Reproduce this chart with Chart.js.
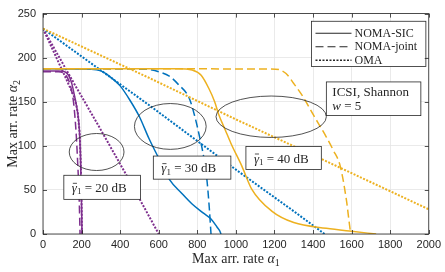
<!DOCTYPE html>
<html>
<head>
<meta charset="utf-8">
<script src="https://cdn.jsdelivr.net/npm/chart.js@4.4.0/dist/chart.umd.min.js"></script>
<style>
  html, body { margin: 0; padding: 0; background: #fff; }
</style>
</head>
<body>
<canvas id="chart" width="445" height="272"></canvas>
<script>
const xTickValues = [0, 200, 400, 600, 800, 1000, 1200, 1400, 1600, 1800, 2000];
const yTickValues = [0, 50, 100, 150, 200, 250];

// gamma_1 = 20 dB (purple)
const sic20X   = [0, 80, 113, 135, 150, 165, 178, 188, 194, 198, 201, 202];
const sic20Y   = [185, 185, 184, 179, 170, 155, 140, 120, 90, 50, 20, 0];
const joint20X = [0, 80, 110, 132, 147, 158, 166, 173, 180, 186, 190, 192];
const joint20Y = [184, 184, 182, 175, 164, 150, 132, 110, 80, 50, 20, 0];
const oma20X   = [0, 150, 295, 450, 600];
const oma20Y   = [233, 175, 120, 60, 0];
const omaB20X  = [0, 80, 120, 165, 180, 190, 196, 200, 202];
const omaB20Y  = [233, 195, 176, 154, 138, 115, 80, 35, 0];

// gamma_1 = 30 dB (blue)
const sic30X   = [0, 250, 300, 350, 400, 450, 500, 550, 600, 655, 720, 773, 830, 871, 902, 915, 923];
const sic30Y   = [187.5, 187, 185, 178, 168, 152, 133, 108, 86, 62, 46, 34, 24, 17, 8, 4, 0];
const joint30X = [0, 500, 551, 600, 655, 700, 758, 785, 812, 835, 851, 862, 871];
const joint30Y = [187.5, 187, 186.5, 184, 179, 170, 154, 135, 110, 85, 59, 30, 0];
const oma30X   = [0, 551, 1000, 1299, 1460];
const oma30Y   = [233, 146, 73, 26, 0];

// gamma_1 = 40 dB (yellow)
const sic40X   = [0, 700, 773, 820, 860, 890, 912, 945, 974, 1031, 1082, 1186, 1300, 1469, 1600, 1727];
const sic40Y   = [187.5, 187.5, 186, 180, 165, 150, 135, 118, 103, 77, 51, 26, 13, 6.5, 3, 0];
const joint40X = [0, 1206, 1260, 1299, 1350, 1402, 1469, 1505, 1541, 1572, 1593, 1596];
const joint40Y = [187.5, 187, 182, 171, 155, 135, 110, 95, 77, 40, 4, 0];
const oma40X   = [0, 551, 1000, 1454, 2000];
const oma40Y   = [233, 177, 130, 84, 28];

const PURPLE = '#7E2F8E', BLUE = '#0072BD', YELLOW = '#EDB120', INK = '#262626';

// annotations, in data units
const ellipses = [
  { x: 278, y: 93, rx: 142, ry: 21 },
  { x: 660, y: 122, rx: 186, ry: 26 },
  { x: 1183, y: 133, rx: 286, ry: 23.5 }
];
const gammaBoxes = [
  { x1: 108, x2: 505, y1: 66.6, y2: 39.3, db: '20' },
  { x1: 572, x2: 974, y1: 88.4, y2: 62.2, db: '30' },
  { x1: 1052, x2: 1443, y1: 99.3, y2: 73.1, db: '40' }
];
const icsiBox = { x1: 1469, x2: 1959, y1: 172.5, y2: 134.3 };
const legendBox = { x1: 1392, x2: 1985, y1: 241.3, y2: 190 };
const legendItems = [
  { label: 'NOMA-SIC', dash: [] },
  { label: 'NOMA-joint', dash: [8, 4] },
  { label: 'OMA', dash: [2, 1.5] }
];

function pts(xs, ys) { return xs.map((x, i) => ({ x: x, y: ys[i] })); }

function series(xs, ys, color, kind, order) {
  const ds = {
    data: pts(xs, ys), borderColor: color, showLine: true, fill: false,
    pointRadius: 0, borderWidth: 1.5, order: order
  };
  if (kind !== 'dot') ds.cubicInterpolationMode = 'monotone';
  if (kind === 'dash') ds.borderDash = [8, 4];
  if (kind === 'dot') { ds.borderDash = [2, 1.5]; ds.borderWidth = 2; }
  return ds;
}

function rectPx(b, xs, ys) {
  const l = xs.getPixelForValue(b.x1), r = xs.getPixelForValue(b.x2);
  const t = ys.getPixelForValue(b.y1), bo = ys.getPixelForValue(b.y2);
  return { l: l, t: t, w: r - l, h: bo - t };
}

function drawBox(ctx, p) {
  ctx.fillStyle = '#fff';
  ctx.fillRect(p.l, p.t, p.w, p.h);
  ctx.strokeStyle = INK;
  ctx.lineWidth = 0.8;
  ctx.setLineDash([]);
  ctx.strokeRect(p.l, p.t, p.w, p.h);
}

// draws "gamma-bar sub 1 = NN dB"
function drawGamma(ctx, x0, base, db) {
  ctx.fillStyle = INK;
  ctx.textBaseline = 'alphabetic';
  ctx.textAlign = 'left';
  ctx.font = 'italic 13px "Liberation Serif"';
  ctx.fillText('γ', x0, base);
  const w = ctx.measureText('γ').width;
  ctx.strokeStyle = INK; ctx.lineWidth = 0.8;
  ctx.beginPath(); ctx.moveTo(x0 + 1, base - 8.5); ctx.lineTo(x0 + w, base - 8.5); ctx.stroke();
  ctx.font = '9px "Liberation Serif"';
  ctx.fillText('1', x0 + w, base + 2.5);
  const w1 = ctx.measureText('1').width;
  ctx.font = '13px "Liberation Serif"';
  ctx.fillText(' = ' + db + ' dB', x0 + w + w1, base);
}

// "Max arr. rate alpha_k", centred on (cx, cy) in the current transform
function drawAxisTitle(ctx, cx, cy, sub) {
  const main = 'Max arr. rate ';
  ctx.font = '14px "Liberation Serif"';
  const w0 = ctx.measureText(main).width;
  ctx.font = 'italic 14px "Liberation Serif"';
  const wa = ctx.measureText('α').width;
  ctx.font = '10px "Liberation Serif"';
  const ws = ctx.measureText(sub).width;
  let x0 = cx - (w0 + wa + ws) / 2;
  const base = cy + 4;
  ctx.fillStyle = INK; ctx.textAlign = 'left'; ctx.textBaseline = 'alphabetic';
  ctx.font = '14px "Liberation Serif"';
  ctx.fillText(main, x0, base);
  ctx.font = 'italic 14px "Liberation Serif"';
  ctx.fillText('α', x0 + w0, base);
  ctx.font = '10px "Liberation Serif"';
  ctx.fillText(sub, x0 + w0 + wa, base + 3);
}

const decor = {
  id: 'decor',
  afterDatasetsDraw(chart) {
    const ctx = chart.ctx, a = chart.chartArea;
    const xs = chart.scales.x, ys = chart.scales.y;
    ctx.save();

    // ellipses
    ctx.strokeStyle = INK; ctx.lineWidth = 0.8; ctx.setLineDash([]);
    ellipses.forEach(e => {
      const cx = xs.getPixelForValue(e.x), cy = ys.getPixelForValue(e.y);
      const rx = Math.abs(xs.getPixelForValue(e.x + e.rx) - cx);
      const ry = Math.abs(ys.getPixelForValue(e.y + e.ry) - cy);
      ctx.beginPath(); ctx.ellipse(cx, cy, rx, ry, 0, 0, Math.PI * 2); ctx.stroke();
    });

    // gamma text boxes
    gammaBoxes.forEach(b => {
      const p = rectPx(b, xs, ys);
      drawBox(ctx, p);
      drawGamma(ctx, p.l + 8, p.t + p.h / 2 + 4.5, b.db);
    });

    // ICSI box
    const q = rectPx(icsiBox, xs, ys);
    drawBox(ctx, q);
    ctx.fillStyle = INK; ctx.textAlign = 'left'; ctx.textBaseline = 'alphabetic';
    ctx.font = '13px "Liberation Serif"';
    ctx.fillText('ICSI, Shannon', q.l + 6, q.t + 14);
    ctx.font = 'italic 13px "Liberation Serif"';
    ctx.fillText('w', q.l + 6, q.t + 28);
    const ww = ctx.measureText('w').width;
    ctx.font = '13px "Liberation Serif"';
    ctx.fillText(' = 5', q.l + 6 + ww, q.t + 28);

    // legend
    const g = rectPx(legendBox, xs, ys);
    drawBox(ctx, g);
    legendItems.forEach((it, i) => {
      const yy = g.t + 12 + i * 13.5;
      ctx.strokeStyle = INK; ctx.lineWidth = it.label === 'OMA' ? 1.5 : 1.2;
      ctx.setLineDash(it.dash);
      ctx.beginPath(); ctx.moveTo(g.l + 4, yy); ctx.lineTo(g.l + 40, yy); ctx.stroke();
      ctx.setLineDash([]);
      ctx.fillStyle = INK; ctx.font = '12px "Liberation Serif"';
      ctx.textBaseline = 'middle';
      ctx.fillText(it.label, g.l + 43, yy + 0.5);
    });

    // axes box with inward ticks
    ctx.strokeStyle = INK; ctx.lineWidth = 0.8; ctx.setLineDash([]);
    ctx.strokeRect(a.left, a.top, a.right - a.left, a.bottom - a.top);
    ctx.beginPath();
    xTickValues.forEach(v => {
      const px = Math.round(xs.getPixelForValue(v)) + 0.5;
      ctx.moveTo(px, a.bottom); ctx.lineTo(px, a.bottom - 4);
      ctx.moveTo(px, a.top); ctx.lineTo(px, a.top + 4);
    });
    yTickValues.forEach(v => {
      const py = Math.round(ys.getPixelForValue(v)) + 0.5;
      ctx.moveTo(a.left, py); ctx.lineTo(a.left + 4, py);
      ctx.moveTo(a.right, py); ctx.lineTo(a.right - 4, py);
    });
    ctx.stroke();

    // axis titles
    drawAxisTitle(ctx, (a.left + a.right) / 2, 259, '1');
    ctx.translate(13, (a.top + a.bottom) / 2);
    ctx.rotate(-Math.PI / 2);
    drawAxisTitle(ctx, 0, 0, '2');
    ctx.restore();
  }
};

new Chart(document.getElementById('chart'), {
  type: 'scatter',
  data: {
    datasets: [
      series(sic40X, sic40Y, YELLOW, 'solid', 0),
      series(joint40X, joint40Y, YELLOW, 'dash', 0),
      series(oma40X, oma40Y, YELLOW, 'dot', 0),
      series(sic30X, sic30Y, BLUE, 'solid', 1),
      series(joint30X, joint30Y, BLUE, 'dash', 1),
      series(oma30X, oma30Y, BLUE, 'dot', 1),
      series(sic20X, sic20Y, PURPLE, 'solid', 2),
      series(joint20X, joint20Y, PURPLE, 'dash', 2),
      series(oma20X, oma20Y, PURPLE, 'dot', 2),
      series(omaB20X, omaB20Y, PURPLE, 'dot', 2)
    ]
  },
  options: {
    responsive: false,
    animation: false,
    layout: { padding: { left: 0, right: 14, top: 5, bottom: 0 } },
    plugins: { legend: { display: false }, tooltip: { enabled: false } },
    scales: {
      x: {
        type: 'linear', min: 0, max: 2000,
        afterBuildTicks: s => { s.ticks = xTickValues.map(v => ({ value: v })); },
        afterFit: s => { s.height = 38; },
        grid: { color: '#e4e4e4', drawTicks: false, lineWidth: 0.8 },
        border: { display: false },
        ticks: { padding: 4, maxRotation: 0, autoSkip: false, color: INK,
                 callback: v => String(v),
                 font: { family: '"Liberation Sans"', size: 11 } }
      },
      y: {
        type: 'linear', min: 0, max: 250,
        afterBuildTicks: s => { s.ticks = yTickValues.map(v => ({ value: v })); },
        afterFit: s => { s.width = 43; },
        grid: { color: '#e4e4e4', drawTicks: false, lineWidth: 0.8 },
        border: { display: false },
        ticks: { padding: 7, autoSkip: false, color: INK,
                 callback: v => String(v),
                 font: { family: '"Liberation Sans"', size: 11 } }
      }
    }
  },
  plugins: [decor]
});
</script>
</body>
</html>
